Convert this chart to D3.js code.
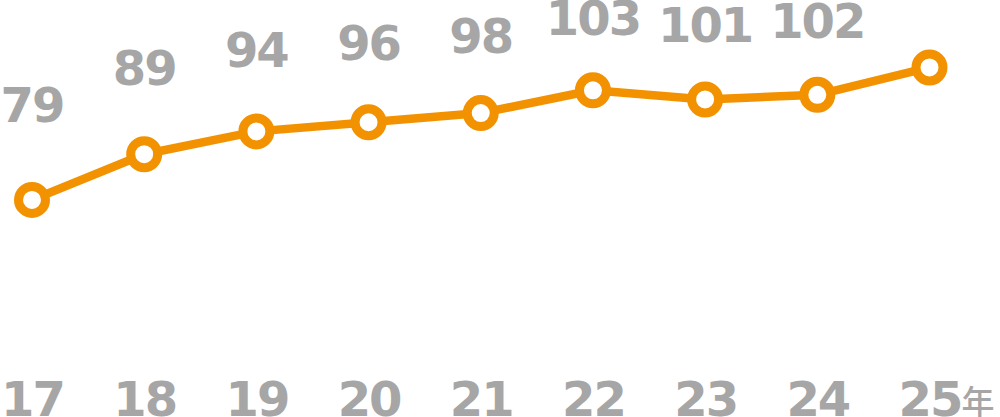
<!DOCTYPE html>
<html>
<head>
<meta charset="utf-8">
<script src="https://cdn.jsdelivr.net/npm/d3@7"></script>
<style>
  html, body { margin: 0; padding: 0; background: #ffffff; }
  svg { display: block; }
</style>
</head>
<body>
<svg id="chart" width="1000" height="417"></svg>
<script>
// ---- data ----
const years = ["17", "18", "19", "20", "21", "22", "23", "24", "25"];
const values = [79, 89, 94, 96, 98, 103, 101, 102, 108];
const valueLabels = ["79", "89", "94", "96", "98", "103", "101", "102", ""];
const unitLabel = "年";

// ---- styles ----
const ORANGE = "#f39200";
const GRAY = "#a6a6a6";
const NUM_FONT = "'DejaVu Sans', sans-serif";

const svg = d3.select("#chart");

const x = d3.scalePoint().domain(years).range([32, 929.5]);
const y = d3.scaleLinear().domain([70, 110]).range([241, 58.3]);
const yLabel = d3.scaleLinear().domain([70, 110]).range([154, 9.6]);

const data = years.map((yr, i) => ({ yr, v: values[i], label: valueLabels[i] }));

// line
const line = d3.line().x(d => x(d.yr)).y(d => y(d.v));
svg.append("path")
  .datum(data)
  .attr("d", line)
  .attr("fill", "none")
  .attr("stroke", ORANGE)
  .attr("stroke-width", 8.5)
  .attr("stroke-linejoin", "round");

// points
svg.selectAll("circle.pt")
  .data(data)
  .join("circle")
  .attr("class", "pt")
  .attr("cx", d => x(d.yr))
  .attr("cy", d => y(d.v))
  .attr("r", 13.5)
  .attr("fill", "#ffffff")
  .attr("stroke", ORANGE)
  .attr("stroke-width", 9);

// value labels
svg.selectAll("text.val")
  .data(data.filter(d => d.label !== ""))
  .join("text")
  .attr("class", "val")
  .attr("x", d => x(d.yr))
  .attr("y", d => yLabel(d.v))
  .attr("text-anchor", "middle")
  .attr("font-family", NUM_FONT)
  .attr("font-weight", "bold")
  .attr("font-size", 48)
  .attr("letter-spacing", -2)
  .attr("fill", GRAY)
  .text(d => d.label);

// x axis
const axis = d3.axisBottom(x).tickSize(0).tickPadding(0);
const gx = svg.append("g").attr("transform", "translate(0,416)").call(axis);
gx.select(".domain").remove();
gx.selectAll(".tick text")
  .attr("y", 0)
  .attr("dy", 0)
  .attr("font-family", NUM_FONT)
  .attr("font-weight", "bold")
  .attr("font-size", 48)
  .attr("letter-spacing", -2)
  .attr("fill", GRAY);

// unit after last tick
const lastYr = years[years.length - 1];
svg.append("text")
  .attr("x", x(lastYr) + 32)
  .attr("y", 414)
  .attr("font-family", "'Noto Sans CJK JP', sans-serif")
  .attr("font-weight", 500)
  .attr("font-size", 33)
  .attr("fill", GRAY)
  .text(unitLabel);
</script>
</body>
</html>
